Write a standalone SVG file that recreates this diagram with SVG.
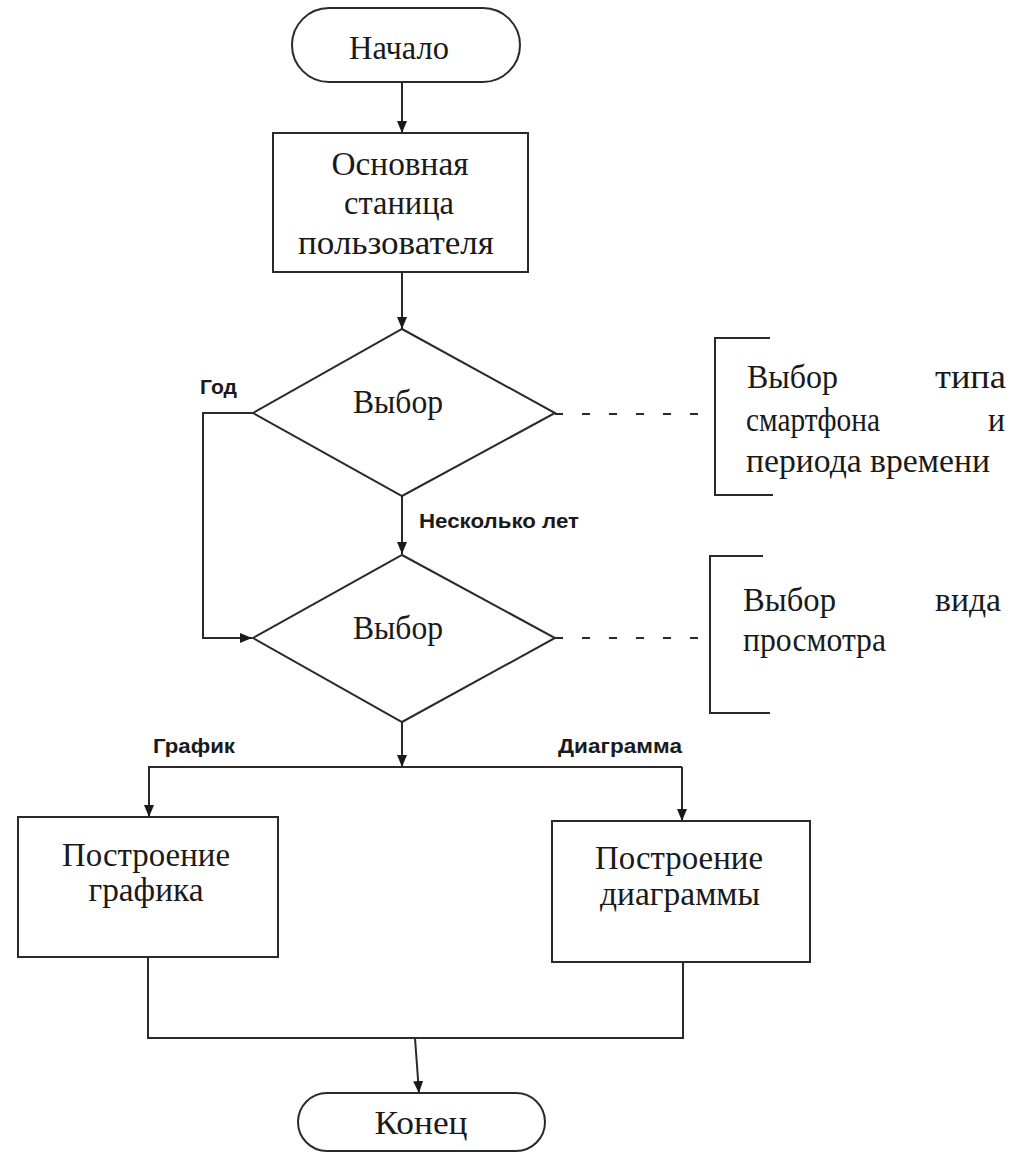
<svg xmlns="http://www.w3.org/2000/svg" width="1013" height="1153" viewBox="0 0 1013 1153">
<defs>
<marker id="ah" viewBox="0 0 12 10" refX="12" refY="5" markerWidth="12" markerHeight="10" markerUnits="userSpaceOnUse" orient="auto">
<path d="M0,0 L12,5 L0,10 z" fill="#1a1a1a"/>
</marker>
<style>
.s{fill:#fff;stroke:#2a2a2a;stroke-width:2}
.t{font-family:"Liberation Serif","Times New Roman",serif;font-size:33px;fill:#1a1a1a}
.m{text-anchor:middle}
.l{font-family:"Liberation Sans",Arial,sans-serif;font-size:21px;font-weight:bold;fill:#1a1a1a}
.c{fill:none;stroke:#2a2a2a;stroke-width:2}
.d{fill:none;stroke:#2a2a2a;stroke-width:2;stroke-dasharray:8 19}
</style>
</defs>
<rect width="1013" height="1153" fill="#fff"/>
<g id="connectors">
<line class="c" x1="402" y1="82" x2="402" y2="133" marker-end="url(#ah)"/>
<line class="c" x1="402" y1="272" x2="402" y2="329" marker-end="url(#ah)"/>
<line class="c" x1="402" y1="496" x2="402" y2="554" marker-end="url(#ah)"/>
<polyline class="c" points="253,413 203,413 203,638 252,638" marker-end="url(#ah)"/>
<line class="c" x1="402" y1="722" x2="402" y2="767" marker-end="url(#ah)"/>
<polyline class="c" points="148,767 682,767"/>
<line class="c" x1="149" y1="767" x2="149" y2="817" marker-end="url(#ah)"/>
<line class="c" x1="682" y1="767" x2="682" y2="821" marker-end="url(#ah)"/>
<polyline class="c" points="148,957 148,1038 683,1038 683,962"/>
<line class="c" x1="415" y1="1038" x2="419" y2="1093" marker-end="url(#ah)"/>
<line class="d" x1="555" y1="414" x2="700" y2="414"/>
<line class="d" x1="555" y1="638" x2="700" y2="638"/>
<text class="l" x="200" y="394" textLength="37" lengthAdjust="spacingAndGlyphs">Год</text>
<text class="l" x="419" y="528" textLength="160" lengthAdjust="spacingAndGlyphs">Несколько лет</text>
<text class="l" x="153" y="753" textLength="82" lengthAdjust="spacingAndGlyphs">График</text>
<text class="l" x="558" y="753" textLength="124" lengthAdjust="spacingAndGlyphs">Диаграмма</text>
</g>
<g id="start">
<rect class="s" x="292" y="8" width="228" height="74" rx="37"/>
<text class="t m" x="399" y="59" textLength="100" lengthAdjust="spacingAndGlyphs">Начало</text>
</g>
<g id="main-page">
<rect class="s" x="273" y="133" width="255" height="139"/>
<text class="t m" x="400" y="175" textLength="137" lengthAdjust="spacingAndGlyphs">Основная</text>
<text class="t m" x="399" y="214" textLength="110" lengthAdjust="spacingAndGlyphs">станица</text>
<text class="t m" x="396" y="254" textLength="196" lengthAdjust="spacingAndGlyphs">пользователя</text>
</g>
<g id="choice1">
<polygon class="s" points="402,329 555,413 402,496 253,413"/>
<text class="t m" x="398" y="413" textLength="90" lengthAdjust="spacingAndGlyphs">Выбор</text>
</g>
<g id="note1">
<polyline class="c" points="770,338 715,338 715,495 773,495"/>
<text class="t" x="747" y="388" textLength="91" lengthAdjust="spacingAndGlyphs">Выбор</text>
<text class="t" x="935" y="388" textLength="71" lengthAdjust="spacingAndGlyphs">типа</text>
<text class="t" x="746" y="431" textLength="134" lengthAdjust="spacingAndGlyphs">смартфона</text>
<text class="t" x="988" y="431" textLength="17" lengthAdjust="spacingAndGlyphs">и</text>
<text class="t" x="746" y="472" textLength="244" lengthAdjust="spacingAndGlyphs">периода времени</text>
</g>
<g id="choice2">
<polygon class="s" points="402,555 555,638 402,722 253,638"/>
<text class="t m" x="398" y="639" textLength="90" lengthAdjust="spacingAndGlyphs">Выбор</text>
</g>
<g id="note2">
<polyline class="c" points="763,556 710,556 710,713 770,713"/>
<text class="t" x="743" y="611" textLength="93" lengthAdjust="spacingAndGlyphs">Выбор</text>
<text class="t" x="935" y="611" textLength="66" lengthAdjust="spacingAndGlyphs">вида</text>
<text class="t" x="743" y="651" textLength="143" lengthAdjust="spacingAndGlyphs">просмотра</text>
</g>
<g id="graph">
<rect class="s" x="18" y="817" width="260" height="140"/>
<text class="t m" x="146" y="866" textLength="168" lengthAdjust="spacingAndGlyphs">Построение</text>
<text class="t m" x="146" y="901" textLength="115" lengthAdjust="spacingAndGlyphs">графика</text>
</g>
<g id="diagram">
<rect class="s" x="552" y="821" width="258" height="141"/>
<text class="t m" x="679" y="869" textLength="168" lengthAdjust="spacingAndGlyphs">Построение</text>
<text class="t m" x="680" y="905" textLength="160" lengthAdjust="spacingAndGlyphs">диаграммы</text>
</g>
<g id="end">
<rect class="s" x="298" y="1093" width="247" height="58" rx="29"/>
<text class="t m" x="421" y="1134" textLength="93" lengthAdjust="spacingAndGlyphs">Конец</text>
</g>
</svg>
